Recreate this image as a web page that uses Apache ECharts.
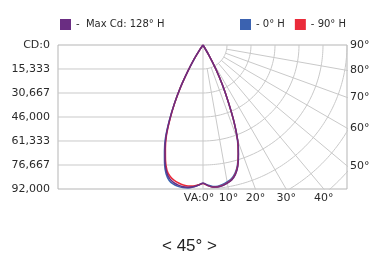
<!DOCTYPE html>
<html>
<head>
<meta charset="utf-8">
<script src="https://cdn.jsdelivr.net/npm/echarts@6/dist/echarts.min.js"></script>
<style>
  html, body { margin: 0; padding: 0; background: #fff; }
  #chart { width: 379px; height: 255px; }
</style>
</head>
<body>
<div id="chart"></div>
<script>
// vertical angle from nadir (deg), negative = other half of the plane
const angles = [-90, -36, -34, -32, -30, -28, -26, -24, -22, -20, -18, -16, -14, -12, -10, -8, -6, -4, -2, 0,
  2, 4, 6, 8, 10, 12, 14, 16, 18, 20, 22, 24, 26, 28, 30, 32, 34, 36, 90]

// candela per angle
const maxCd128H = [0, 0, 3800, 11200, 19500, 30700, 41500, 52400, 63100, 71000, 78400, 84400, 88000, 89900, 90900, 91500, 91400, 90800, 89700, 88400,
  89800, 91000, 91200, 90700, 89600, 88200, 85400, 80700, 73400, 64900, 53000, 39600, 28400, 17900, 7300, 0, 0, 0, 0]
const cd0H = [0, 0, 3600, 11000, 19400, 30800, 41800, 53000, 64000, 72000, 79500, 85600, 89200, 90900, 91700, 92000, 91800, 91000, 89700, 88300,
  89600, 90600, 90700, 90000, 88800, 87300, 84500, 79800, 72600, 64300, 52600, 39300, 28200, 17700, 7200, 0, 0, 0, 0]
const cd90H = [0, 0, 3900, 11300, 19600, 30500, 41100, 51800, 62300, 70200, 77500, 83400, 86600, 88400, 89500, 90300, 90600, 90300, 89500, 88500,
  89900, 91000, 91100, 90600, 89500, 88000, 85100, 80300, 73000, 64600, 52800, 39500, 28300, 17800, 7300, 0, 0, 0, 0]

const cdTicks = [0, 15333, 30667, 46000, 61333, 76667, 92000]
const cdTickLabels = ['CD:0', '15,333', '30,667', '46,000', '61,333', '76,667', '92,000']
const bottomAngles = [0, 10, 20, 30, 40]
const bottomAngleLabels = ['VA:0°', '10°', '20°', '30°', '40°']
const sideAngles = [90, 80, 70, 60, 50]
const sideAngleLabels = ['90°', '80°', '70°', '60°', '50°']
const spokeAngles = [10, 20, 30, 40, 50, 60, 70, 80]

const cdMax = 92000
const cdStep = cdMax / 6
const xMin = -92640

const rad = d => d * Math.PI / 180
const toXY = (cd, a) => [cd * Math.sin(rad(a)), cd * Math.cos(rad(a))]
const curve = vals => vals.map((v, i) => toXY(v, angles[i]))

const gridColor = '#c9c9c9'
const textColor = '#2a2a2a'
const font = 'DejaVu Sans'

function gridLine(data) {
  return {
    type: 'line', data, silent: true, symbol: 'none', z: 1,
    lineStyle: { color: gridColor, width: 1 }, animation: false
  }
}

const gridSeries = []
// horizontal cd lines, left half only
cdTicks.slice(1, -1).forEach(v => gridSeries.push(gridLine([[xMin, v], [0, v]])))
// nadir line
gridSeries.push(gridLine([[0, 0], [0, cdMax]]))
// arcs in the right quadrant
for (let k = 1; k <= 8; k++) {
  const pts = []
  for (let a = 0; a <= 90; a++) pts.push(toXY(k * cdStep, a))
  gridSeries.push(gridLine(pts))
}
// spokes from the first arc outwards
spokeAngles.forEach(a => gridSeries.push(gridLine([toXY(cdStep, a), toXY(cdMax * 1.6, a)])))

function pickLabel(values, labels, v) {
  let best = 0
  values.forEach((x, i) => { if (Math.abs(x - v) < Math.abs(values[best] - v)) best = i })
  return labels[best]
}

const bottomVals = bottomAngles.map(a => cdMax * Math.tan(rad(a)))
const sideVals = sideAngles.map(a => a === 90 ? 0 : cdMax / Math.tan(rad(a)))

const curveStyle = (name, color, data) => ({
  name, type: 'line', data, symbol: 'none', smooth: 0.25, z: 3,
  itemStyle: { color }, lineStyle: { color, width: 1.5 }, animation: false
})

const myChart = echarts.init(document.getElementById('chart'))
const option = {
  animation: false,
  textStyle: { fontFamily: font },
  title: {
    text: '< 45° >',
    left: 'center',
    top: 233,
    textStyle: { fontFamily: 'Liberation Sans', fontSize: 17, fontWeight: 'normal', color: '#222' }
  },
  legend: [
    {
      data: ['Max Cd: 128° H'], left: 60, top: 19, padding: 0, icon: 'rect', itemWidth: 11, itemHeight: 11,
      itemGap: 10, formatter: '-  {name}', selectedMode: false,
      textStyle: { fontFamily: font, fontSize: 10, color: textColor }
    },
    {
      data: ['0° H', '90° H'], left: 240, top: 19, padding: 0, icon: 'rect', itemWidth: 11, itemHeight: 11,
      itemGap: 10, formatter: '- {name}', selectedMode: false,
      textStyle: { fontFamily: font, fontSize: 10, color: textColor }
    }
  ],
  grid: {
    left: 58, right: 32, top: 45, bottom: 66,
    show: true, borderColor: '#b5b5b5', borderWidth: 1
  },
  xAxis: {
    type: 'value', min: xMin, max: cdMax,
    axisLine: { show: false }, axisTick: { show: false }, splitLine: { show: false },
    axisLabel: {
      customValues: bottomVals, margin: 4, color: textColor, fontSize: 11, fontFamily: font,
      formatter: v => {
        const s = pickLabel(bottomVals, bottomAngleLabels, v)
        return s.indexOf('VA') === 0 ? '{va|' + s + '}' : s
      },
      rich: { va: { padding: [0, 8, 0, 0], fontSize: 11, fontFamily: font, color: textColor } }
    }
  },
  yAxis: [
    {
      type: 'value', inverse: true, min: 0, max: cdMax, position: 'left',
      axisLine: { show: false }, axisTick: { show: false }, splitLine: { show: false },
      axisLabel: {
        customValues: cdTicks, margin: 8, color: textColor, fontSize: 11, fontFamily: font,
        formatter: v => pickLabel(cdTicks, cdTickLabels, v)
      }
    },
    {
      type: 'value', inverse: true, min: 0, max: cdMax, position: 'right',
      axisLine: { show: false }, axisTick: { show: false }, splitLine: { show: false },
      axisLabel: {
        customValues: sideVals, margin: 3, color: textColor, fontSize: 11, fontFamily: font,
        formatter: v => pickLabel(sideVals, sideAngleLabels, v)
      }
    }
  ],
  series: [
    ...gridSeries,
    curveStyle('0° H', '#3b62b0', curve(cd0H)),
    curveStyle('90° H', '#ea2b3a', curve(cd90H)),
    curveStyle('Max Cd: 128° H', '#6a2d82', curve(maxCd128H))
  ]
}
myChart.setOption(option)
</script>
</body>
</html>
